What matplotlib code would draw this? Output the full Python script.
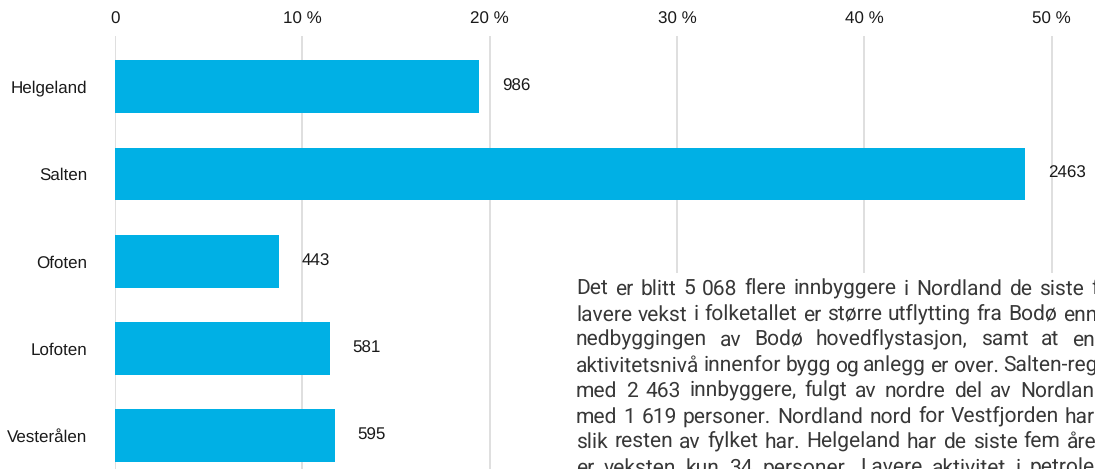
import matplotlib
matplotlib.use("Agg")
import matplotlib.pyplot as plt
from matplotlib.patches import Rectangle
from matplotlib.font_manager import FontProperties
import numpy as np

plt.rcParams["text.hinting"] = "no_hinting"
plt.rcParams["text.hinting_factor"] = 1

# data: population growth per region (persons)
regions = ["Helgeland", "Salten", "Ofoten", "Lofoten", "Vesterålen"]
growth = [986, 2463, 443, 581, 595]
tick_values = [0, 10, 20, 30, 40, 50]
tick_labels = ["0", "10 %", "20 %", "30 %", "40 %", "50 %"]

# paragraph (justified, runs off the right edge)
text_lines = [
    "Det er blitt 5 068 flere innbyggere i Nordland de siste fem",
    "lavere vekst i folketallet er større utflytting fra Bodø enn",
    "nedbyggingen av Bodø hovedflystasjon, samt at en",
    "aktivitetsnivå innenfor bygg og anlegg er over. Salten-regionen",
    "med 2 463 innbyggere, fulgt av nordre del av Nordland",
    "med 1 619 personer. Nordland nord for Vestfjorden har",
    "slik resten av fylket har. Helgeland har de siste fem årene",
    "er veksten kun 34 personer. Lavere aktivitet i petroleum",
]
# x (px) where the last word of each line starts after justification
last_word_x = [1091, 1063, 1072, 1003, 1020, 1065, 1067, 1030]

BAR = "#00b0e5"
GRID = "#dcdcdc"
TXT = "#1a1a1a"
FS = 12

share = np.array(growth) / sum(growth) * 100
ypos = np.arange(len(regions))

W, H = 1095, 469
fig = plt.figure(figsize=(W / 100, H / 100), dpi=100)
ax = fig.add_axes([115 / W, 0, 1 - 115 / W, 1 - 36 / H])

ax.barh(ypos, share, height=0.605, color=BAR, zorder=2)
ax.set_xlim(0, (W - 115) / 18.73)
ax.set_ylim(4.38, -0.58)

ax.xaxis.tick_top()
ax.set_xticks(tick_values)
ax.set_xticklabels(tick_labels, fontsize=FS, family="Liberation Sans", color=TXT)
ax.set_yticks(ypos)
ax.set_yticklabels(regions, fontsize=FS, family="Liberation Sans", color=TXT)
ax.tick_params(axis="x", length=0, pad=6)
ax.tick_params(axis="y", length=0, pad=20)
ax.grid(axis="x", color=GRID, linewidth=1.3, zorder=0)
for s in ax.spines.values():
    s.set_visible(False)

# value labels next to bars
for y, v, n in zip(ypos, share, growth):
    ax.text(v + 1.2, y, str(n), va="center", ha="left", fontsize=FS,
            family="Liberation Sans", color=TXT)

# white text box covering the lower right
fig.patches.append(Rectangle((545 / W, 0), 1, (H - 273) / H, transform=fig.transFigure,
                             facecolor="white", edgecolor="none", zorder=3))

# justified paragraph, word by word
renderer = fig.canvas.get_renderer()
prop = FontProperties(family="Roboto", size=15)
x0 = 576
for i, (line, xe) in enumerate(zip(text_lines, last_word_x)):
    words = line.split(" ")
    yb = 1 - (295 + i * 25.5) / H
    widths = []
    arts = []
    for w in words:
        t = fig.text(0, yb, w, ha="left", va="baseline",
                     fontproperties=prop, color="#383838", zorder=4)
        widths.append(t.get_window_extent(renderer).width)
        arts.append(t)
    gap = (xe - x0 - sum(widths[:-1])) / (len(words) - 1)
    x = x0
    for t, wd in zip(arts, widths):
        t.set_x(x / W)
        x += wd + gap

fig.savefig("out.png", dpi=100)
